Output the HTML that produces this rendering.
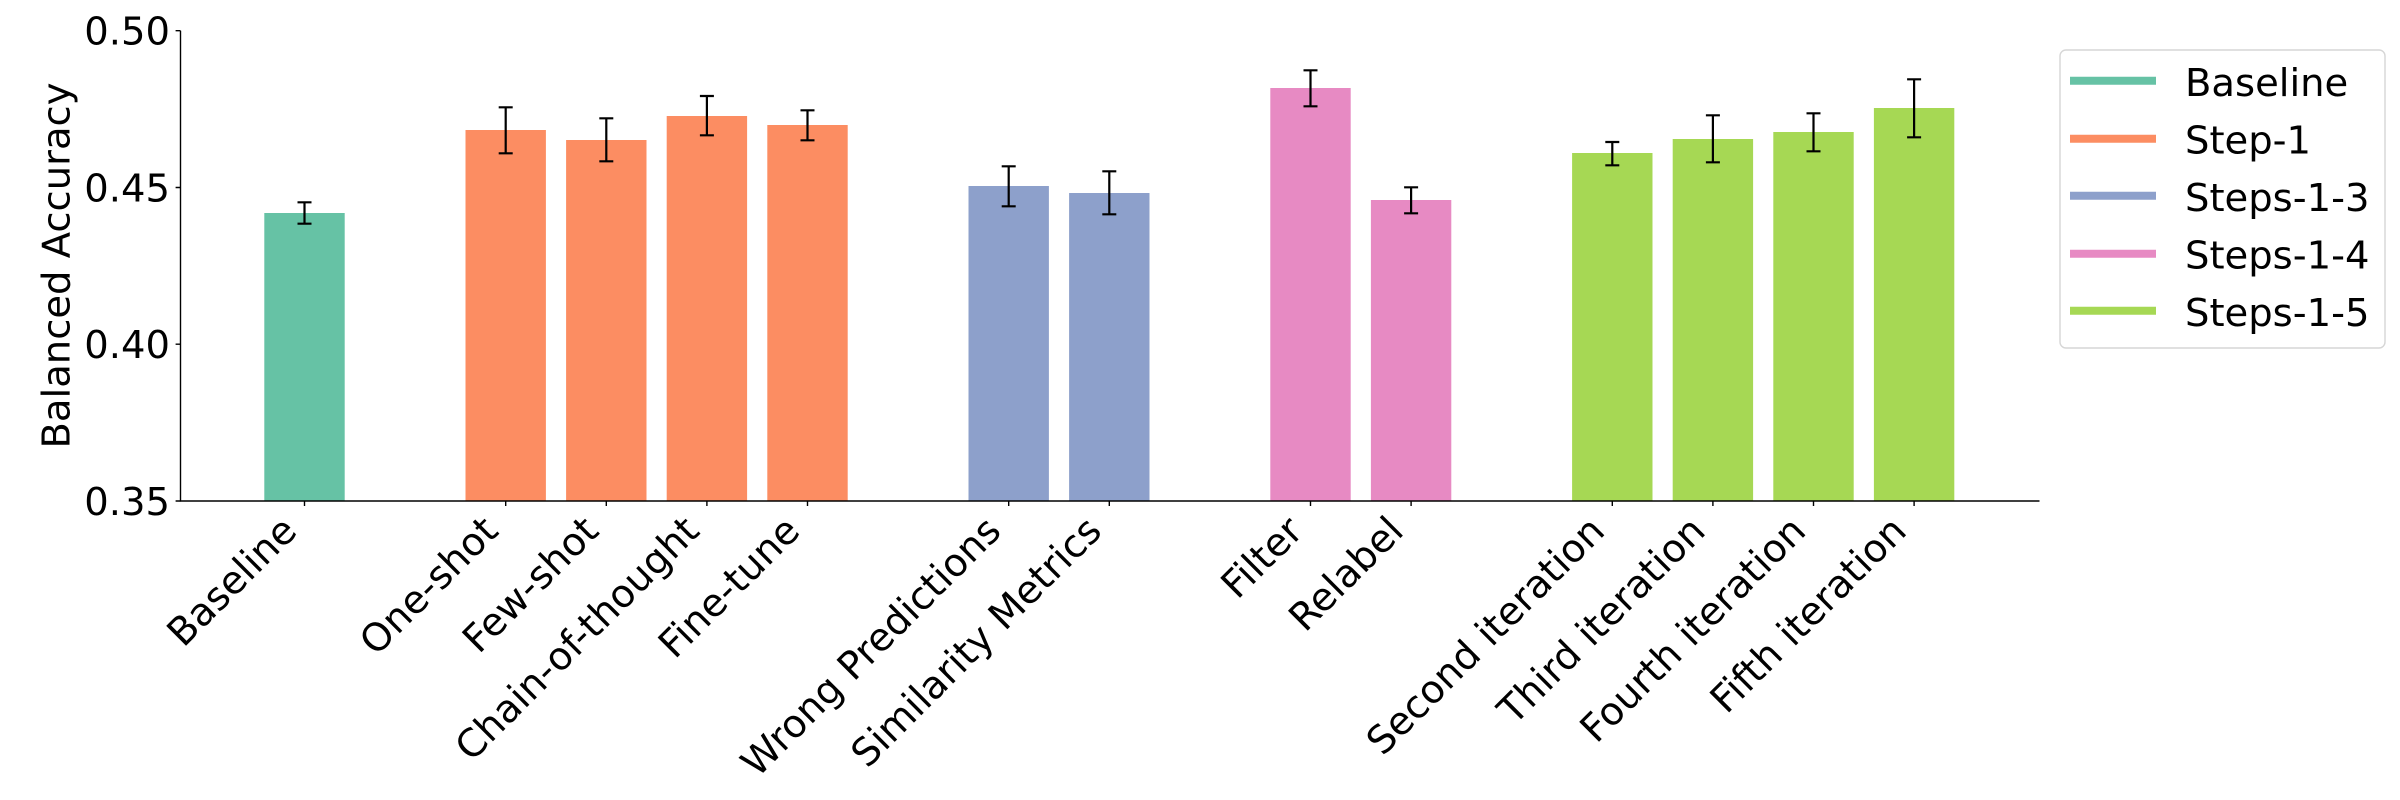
<!DOCTYPE html>
<html><head><meta charset="utf-8"><style>
html,body{margin:0;padding:0;background:#fff;}
svg{display:block;}
text{font-family:"DejaVu Sans","Liberation Sans",sans-serif;fill:#000;}
</style></head><body>
<svg width="2400" height="800" viewBox="0 0 2400 800" xmlns="http://www.w3.org/2000/svg">
<rect width="2400" height="800" fill="#fff"/>
<!-- bars -->
<g>
<rect x="264.3" y="213" width="80.4" height="288" fill="#66c2a5"/>
<rect x="465.5" y="130" width="80.4" height="371" fill="#fc8d62"/>
<rect x="566.1" y="140" width="80.4" height="361" fill="#fc8d62"/>
<rect x="666.7" y="116" width="80.4" height="385" fill="#fc8d62"/>
<rect x="767.3" y="125" width="80.4" height="376" fill="#fc8d62"/>
<rect x="968.5" y="186" width="80.4" height="315" fill="#8da0cb"/>
<rect x="1069.1" y="193" width="80.4" height="308" fill="#8da0cb"/>
<rect x="1270.3" y="88" width="80.4" height="413" fill="#e78ac3"/>
<rect x="1370.9" y="200" width="80.4" height="301" fill="#e78ac3"/>
<rect x="1572.1" y="153" width="80.4" height="348" fill="#a6d854"/>
<rect x="1672.7" y="139" width="80.4" height="362" fill="#a6d854"/>
<rect x="1773.3" y="132" width="80.4" height="369" fill="#a6d854"/>
<rect x="1873.9" y="108" width="80.4" height="393" fill="#a6d854"/>
</g>
<!-- error bars -->
<g stroke="#000" stroke-width="2.2" fill="none">
<path d="M304.5 202.3V223.7M297.5 202.3H311.5M297.5 223.7H311.5"/>
<path d="M505.7 107.3V153.3M498.7 107.3H512.7M498.7 153.3H512.7"/>
<path d="M606.3 118.3V161.3M599.3 118.3H613.3M599.3 161.3H613.3"/>
<path d="M706.9 96V135.3M699.9 96H713.9M699.9 135.3H713.9"/>
<path d="M807.5 110.3V140.3M800.5 110.3H814.5M800.5 140.3H814.5"/>
<path d="M1008.7 166.3V206.3M1001.7 166.3H1015.7M1001.7 206.3H1015.7"/>
<path d="M1109.3 171.3V214.3M1102.3 171.3H1116.3M1102.3 214.3H1116.3"/>
<path d="M1310.5 70.3V106.3M1303.5 70.3H1317.5M1303.5 106.3H1317.5"/>
<path d="M1411.1 187.3V213.3M1404.1 187.3H1418.1M1404.1 213.3H1418.1"/>
<path d="M1612.3 142V165.3M1605.3 142H1619.3M1605.3 165.3H1619.3"/>
<path d="M1712.9 115.3V162.3M1705.9 115.3H1719.9M1705.9 162.3H1719.9"/>
<path d="M1813.5 113.3V151.3M1806.5 113.3H1820.5M1806.5 151.3H1820.5"/>
<path d="M1914.1 79.3V137.3M1907.1 79.3H1921.1M1907.1 137.3H1921.1"/>
</g>
<!-- spines -->
<g stroke="#000" stroke-width="1.4" fill="none">
<path d="M180.5 30.7V501.5M179.8 501H2039.5"/>
<!-- y ticks -->
<path d="M175.6 30.7H180.5M175.6 187.5H180.5M175.6 344.2H180.5M175.6 501H180.5"/>
<!-- x ticks -->
<path d="M304.5 501V506M505.7 501V506M606.3 501V506M706.9 501V506M807.5 501V506M1008.7 501V506M1109.3 501V506M1310.5 501V506M1411.1 501V506M1612.3 501V506M1712.9 501V506M1813.5 501V506M1914.1 501V506"/>
</g>
<!-- y tick labels -->
<g font-size="38.5" text-anchor="end">
<text x="170" y="44.5">0.50</text>
<text x="170" y="201.3">0.45</text>
<text x="170" y="358">0.40</text>
<text x="170" y="514.8">0.35</text>
</g>
<!-- y label -->
<text font-size="38.5" text-anchor="middle" transform="translate(69.5,265.5) rotate(-90)">Balanced Accuracy</text>
<!-- x tick labels -->
<g font-size="38.5" text-anchor="end">
<text transform="translate(298.8,533) rotate(-45)">Baseline</text>
<text transform="translate(500,533) rotate(-45)">One-shot</text>
<text transform="translate(600.6,533) rotate(-45)">Few-shot</text>
<text transform="translate(701.2,533) rotate(-45)">Chain-of-thought</text>
<text transform="translate(801.8,533) rotate(-45)">Fine-tune</text>
<text transform="translate(1003,533) rotate(-45)">Wrong Predictions</text>
<text transform="translate(1103.6,533) rotate(-45)">Similarity Metrics</text>
<text transform="translate(1304.8,533) rotate(-45)">Filter</text>
<text transform="translate(1405.4,533) rotate(-45)">Relabel</text>
<text transform="translate(1606.6,533) rotate(-45)">Second iteration</text>
<text transform="translate(1707.2,533) rotate(-45)">Third iteration</text>
<text transform="translate(1807.8,533) rotate(-45)">Fourth iteration</text>
<text transform="translate(1908.4,533) rotate(-45)">Fifth iteration</text>
</g>
<!-- legend -->
<rect x="2060" y="50" width="325" height="298" rx="6" ry="6" fill="#fff" stroke="#d6d6d6" stroke-width="1.4"/>
<g stroke-width="8">
<path d="M2070 80.7H2156" stroke="#66c2a5"/>
<path d="M2070 138.7H2156" stroke="#fc8d62"/>
<path d="M2070 195.7H2156" stroke="#8da0cb"/>
<path d="M2070 253.7H2156" stroke="#e78ac3"/>
<path d="M2070 310.7H2156" stroke="#a6d854"/>
</g>
<g font-size="38.5">
<text x="2185" y="96">Baseline</text>
<text x="2185" y="153.5">Step-1</text>
<text x="2185" y="211">Steps-1-3</text>
<text x="2185" y="268.5">Steps-1-4</text>
<text x="2185" y="326">Steps-1-5</text>
</g>
</svg>
</body></html>
